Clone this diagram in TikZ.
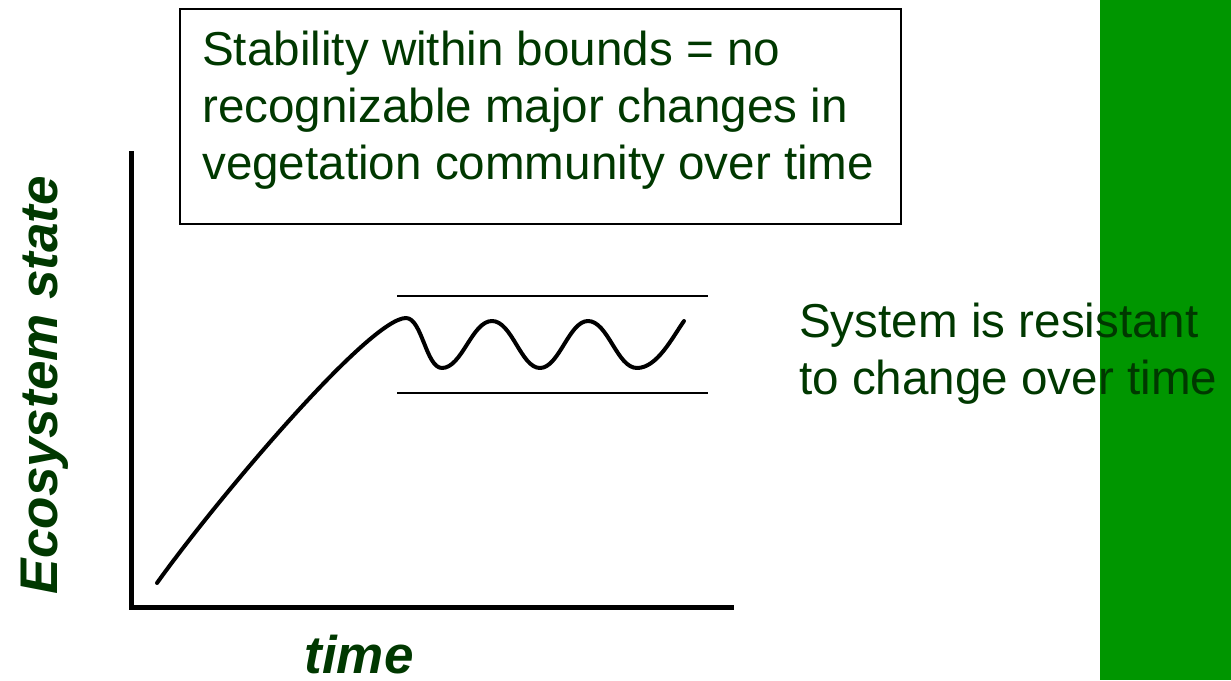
\documentclass[tikz,border=0pt]{standalone}
\usepackage{fontspec}
\setmainfont{Liberation Sans}
\definecolor{txtgreen}{RGB}{0,56,0}
\definecolor{bargreen}{RGB}{0,150,0}
\tikzset{
  maintext/.style={text=txtgreen, inner sep=0pt, align=left, font=\fontsize{47.6}{57}\selectfont},
  axislabel/.style={text=txtgreen, inner sep=0pt, font=\fontsize{53}{60}\selectfont\bfseries\itshape},
  axisline/.style={line width=5pt, line join=miter, line cap=rect},
  boundline/.style={line width=2.5pt},
  curveline/.style={line width=4pt, line cap=round, line join=round},
}
\begin{document}
\begin{tikzpicture}[x=1pt,y=-1pt]
\useasboundingbox (0,0) rectangle (1231,680);
\fill[bargreen] (1100,0) rectangle (1231,680);
% text box
\draw[line width=2pt] (180,9) rectangle (901,224);
\node[maintext, anchor=north west] (box) at (202,31) {Stability within bounds = no\\recognizable major changes in\\vegetation community over time};
% axes
\coordinate (ytop) at (131,153);
\coordinate (origin) at (131,607);
\coordinate (xend) at (731,607);
\draw[axisline] (ytop) -- (origin) -- (xend);
\node[axislabel, rotate=90, anchor=base] (ylab) at (57,385) {Ecosystem state};
\node[axislabel, anchor=base] (xlab) at (359,673) {time};
% bounds
\coordinate (b1a) at (397,296);
\coordinate (b1b) at (708,296);
\coordinate (b2a) at (397,393);
\coordinate (b2b) at (708,393);
\draw[boundline] (b1a) -- (b1b);
\draw[boundline] (b2a) -- (b2b);
% curve
\coordinate (c0) at (157,583);
\coordinate (p1) at (406,318);
\coordinate (t1) at (442,368);
\coordinate (p2) at (492,321);
\coordinate (t2) at (540,368);
\coordinate (p3) at (588,321);
\coordinate (t3) at (637,368);
\coordinate (cend) at (684,321);
\draw[curveline] (c0) .. controls (217,499) and (370,318) .. (p1)
  .. controls (422,318) and (426,368) .. (t1)
  .. controls (462,368) and (472,321) .. (p2)
  .. controls (512,321) and (521,368) .. (t2)
  .. controls (559,368) and (569,321) .. (p3)
  .. controls (608,321) and (617,368) .. (t3)
  .. controls (657,368) and (672,338) .. (cend);
% right text
\node[maintext, anchor=north west] (resist) at (799,303) {System is resistant\\to change over time};
\end{tikzpicture}
\end{document}
